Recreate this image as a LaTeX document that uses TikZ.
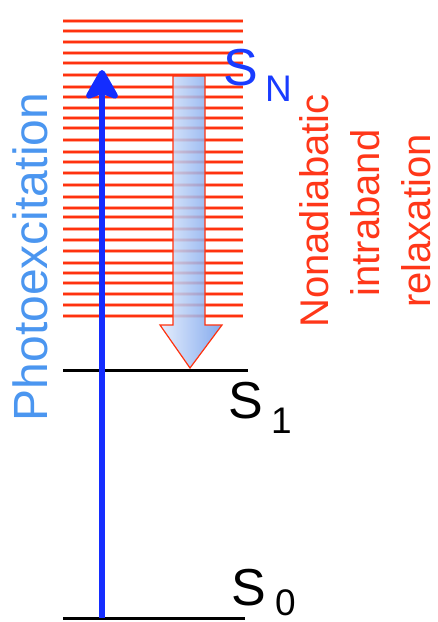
\documentclass[tikz,border=0pt]{standalone}
\usepackage{fontspec}
\setmainfont{Liberation Sans}
\usetikzlibrary{arrows.meta}
\definecolor{levelred}{RGB}{255,50,15}
\definecolor{haloc}{RGB}{255,170,150}
\definecolor{textred}{RGB}{255,55,25}
\definecolor{snblue}{RGB}{25,60,255}
\definecolor{arrowblue}{RGB}{20,45,255}
\definecolor{photoblue}{RGB}{75,150,240}
\definecolor{hollowL}{RGB}{225,235,252}
\definecolor{hollowR}{RGB}{110,155,235}
\tikzset{
  halostyle/.style={line width=4pt, draw=haloc},
  level/.style={line width=2.2pt, draw=levelred},
  ground/.style={line width=3pt, draw=black},
  bigS/.style={inner sep=0pt, anchor=base west, font=\fontsize{52}{52}\selectfont},
  subs/.style={inner sep=0pt, anchor=base west, font=\fontsize{37}{37}\selectfont},
  redtxt/.style={inner sep=0pt, anchor=base, rotate=90, text=textred, font=\fontsize{40}{40}\selectfont},
}
\begin{document}
\begin{tikzpicture}[x=1pt,y=-1pt]
\useasboundingbox (0,0) rectangle (438,622);
% dense manifold of levels
\foreach \yy in {21,31,42,53,63,75,87,97,108,118,128,140,152,162,173,185,197,208,217,229,240,251,263,273,283,294,305,316}{
  \draw[halostyle] (63,\yy) -- (243,\yy);
  \draw[level] (63,\yy) -- (243,\yy);
}
% S1 and S0 levels
\draw[ground] (63,370) -- (248,370);
\draw[ground] (63,618) -- (245,618);
% hollow relaxation arrow
\coordinate (relaxtop) at (189,76);
\coordinate (relaxtip) at (190,368);
\path[left color=hollowL, right color=hollowR, fill opacity=0.85]
  (173,76) -- (205,76) -- (205,325) -- (222,325) -- (relaxtip) -- (160,325) -- (173,325) -- cycle;
\draw[draw=levelred, line width=1.2pt, line join=miter]
  (173,76) -- (205,76) -- (205,325) -- (222,325) -- (relaxtip) -- (160,325) -- (173,325) -- cycle;
% photoexcitation arrow
\coordinate (exbottom) at (102,618);
\coordinate (extop) at (102,70);
\draw[arrowblue, line width=6pt, -{Stealth[length=34pt, width=38pt, inset=7pt, round]}] (exbottom) -- (extop);
% labels
\node[bigS, text=snblue] (SN) at (223,85) {S};
\node[subs, text=snblue] (SNsub) at (265,101) {N};
\node[bigS] (S1) at (228,418) {S};
\node[subs] (S1sub) at (271,433) {1};
\node[bigS] (S0) at (231,605) {S};
\node[subs] (S0sub) at (275,615) {0};
\node[inner sep=0pt, anchor=base, rotate=90, text=photoblue, font=\fontsize{48}{48}\selectfont] (photo) at (47,257) {Photoexcitation};
\node[redtxt] (nonad) at (328,211) {Nonadiabatic};
\node[redtxt] (intra) at (379,213) {intraband};
\node[redtxt] (relax) at (430,221) {relaxation};
\end{tikzpicture}
\end{document}
